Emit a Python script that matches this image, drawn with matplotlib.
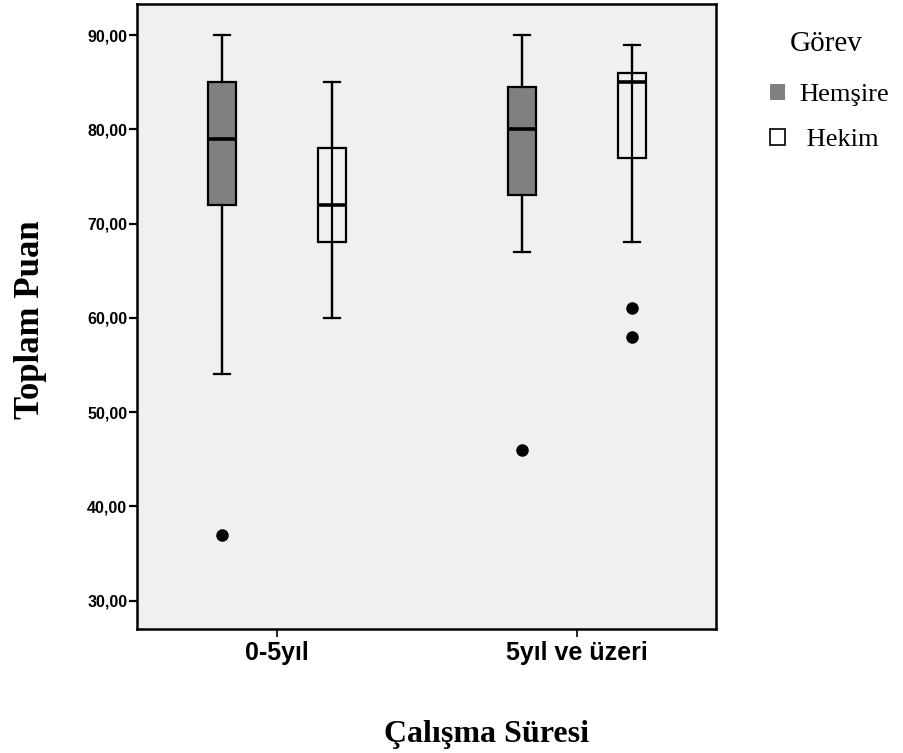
import matplotlib.pyplot as plt
from matplotlib.patches import Patch

categories = ['0-5yıl', '5yıl ve üzeri']
groups = ['Hemşire', 'Hekim']

# five-number summaries, one per category
hemsire_low = [54, 67]
hemsire_q1 = [72, 73]
hemsire_med = [79, 80]
hemsire_q3 = [85, 84.5]
hemsire_high = [90, 90]
hemsire_out = [[37], [46]]

hekim_low = [60, 68]
hekim_q1 = [68, 77]
hekim_med = [72, 85]
hekim_q3 = [78, 86]
hekim_high = [85, 89]
hekim_out = [[], [61, 58]]

yticks = [30, 40, 50, 60, 70, 80, 90]
ytick_labels = ['30,00', '40,00', '50,00', '60,00', '70,00', '80,00', '90,00']

gray = '#808080'
bg = '#f0f0f0'


def make_stats(low, q1, med, q3, high, out):
    stats = []
    for i in range(len(low)):
        stats.append(dict(whislo=low[i], q1=q1[i], med=med[i], q3=q3[i],
                          whishi=high[i], fliers=out[i]))
    return stats


fig = plt.figure(figsize=(9.04, 7.53), dpi=100)
ax = fig.add_axes([0.1515, 0.1647, 0.6405, 0.83])
ax.set_facecolor(bg)

offset = 0.183
width = 0.093
series = [
    (make_stats(hemsire_low, hemsire_q1, hemsire_med, hemsire_q3, hemsire_high, hemsire_out), -offset, gray),
    (make_stats(hekim_low, hekim_q1, hekim_med, hekim_q3, hekim_high, hekim_out), offset, 'none'),
]

for stats, off, color in series:
    pos = [i + off for i in range(len(categories))]
    # SPSS draws the whisker straight through the box
    ax.vlines(pos, [s['whislo'] for s in stats], [s['whishi'] for s in stats],
              color='black', lw=1.6, zorder=1)
    bp = ax.bxp(stats, positions=pos, widths=width, capwidths=0.055,
                patch_artist=True, manage_ticks=False,
                boxprops=dict(facecolor=color, edgecolor='black', lw=1.6),
                whiskerprops=dict(color='black', lw=1.6),
                capprops=dict(color='black', lw=1.6),
                medianprops=dict(color='black', lw=2.6),
                flierprops=dict(marker='o', markerfacecolor='black',
                                markeredgecolor='black', markersize=8))
    for b in bp['boxes']:
        b.set_zorder(2)
    for m in bp['medians']:
        m.set_zorder(3)

ax.set_xlim(-0.467, 1.463)
ax.set_ylim(27.0, 93.3)
ax.set_xticks(range(len(categories)))
ax.set_xticklabels(categories, fontsize=18, fontweight='bold', family='Liberation Sans')
ax.set_yticks(yticks)
ax.set_yticklabels(ytick_labels, fontsize=11.5, fontweight='bold', family='Liberation Sans')
ax.tick_params(axis='y', length=6, width=1.6, pad=1)
ax.tick_params(axis='x', length=6, width=1.2, pad=3)
for sp in ax.spines.values():
    sp.set_linewidth(1.8)

ax.set_xlabel('Çalışma Süresi', fontsize=23, fontweight='bold', family='Liberation Serif')
ax.xaxis.set_label_coords(0.603, -0.169)
ax.xaxis.label.set_va('center')
ax.set_ylabel('Toplam Puan', fontsize=25, fontweight='bold', family='Liberation Serif')
ax.yaxis.set_label_coords(-0.183, 0.495)
ax.yaxis.label.set_va('center')

# legend title sits well above the entries, so it is placed on its own
fig.text(826 / 904, 1 - 44 / 753, 'Görev', ha='center', va='center',
         family='Liberation Serif', fontsize=21)
handles = [Patch(facecolor=gray, edgecolor=gray, lw=0),
           Patch(facecolor='white', edgecolor='black', lw=1.2)]
fig.legend(handles, ['Hemşire', ' Hekim'], loc='upper left',
           bbox_to_anchor=(770 / 904, 1 - 84 / 753), frameon=False,
           borderpad=0, borderaxespad=0,
           handlelength=0.57, handleheight=0.57, handletextpad=0.55,
           labelspacing=0.85, prop=dict(family='Liberation Serif', size=19))

fig.savefig('out.png', dpi=100, facecolor='white')
